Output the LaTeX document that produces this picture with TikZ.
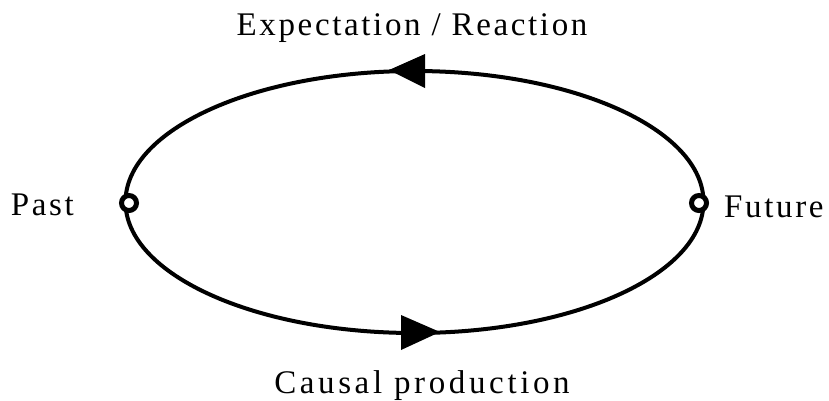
\documentclass[tikz,border=0pt]{standalone}
\usepackage{fontspec}
\setmainfont[LetterSpace=8]{Liberation Serif}
\begin{document}
\begin{tikzpicture}[x=1pt,y=-1pt,
  lbl/.style={font=\fontsize{33}{34}\selectfont, inner sep=0pt, anchor=base},
  ring/.style={circle, draw=black, line width=5pt, fill=white, minimum size=15pt, inner sep=0pt},
  head/.style={fill=black, draw=none}]
\useasboundingbox (0,0) rectangle (829,400);
\draw[line width=4pt] (414.5,202) ellipse [x radius=289, y radius=131];
\node[ring] (past) at (129,203) {};
\node[ring] (future) at (699,203) {};
\fill[head] (389,70) -- (425,54) -- (425,88) -- cycle;
\fill[head] (440,332) -- (401,315) -- (401,350) -- cycle;
\node[lbl] (t1) at (412,35) {Expectation / Reaction};
\node[lbl] (t2) at (422,393) {\addfontfeature{LetterSpace=11}Causal production};
\node[lbl, anchor=base east] (t3) at (74,215) {Past};
\node[lbl, anchor=base west] (t4) at (724,217) {Future};
\end{tikzpicture}
\end{document}
